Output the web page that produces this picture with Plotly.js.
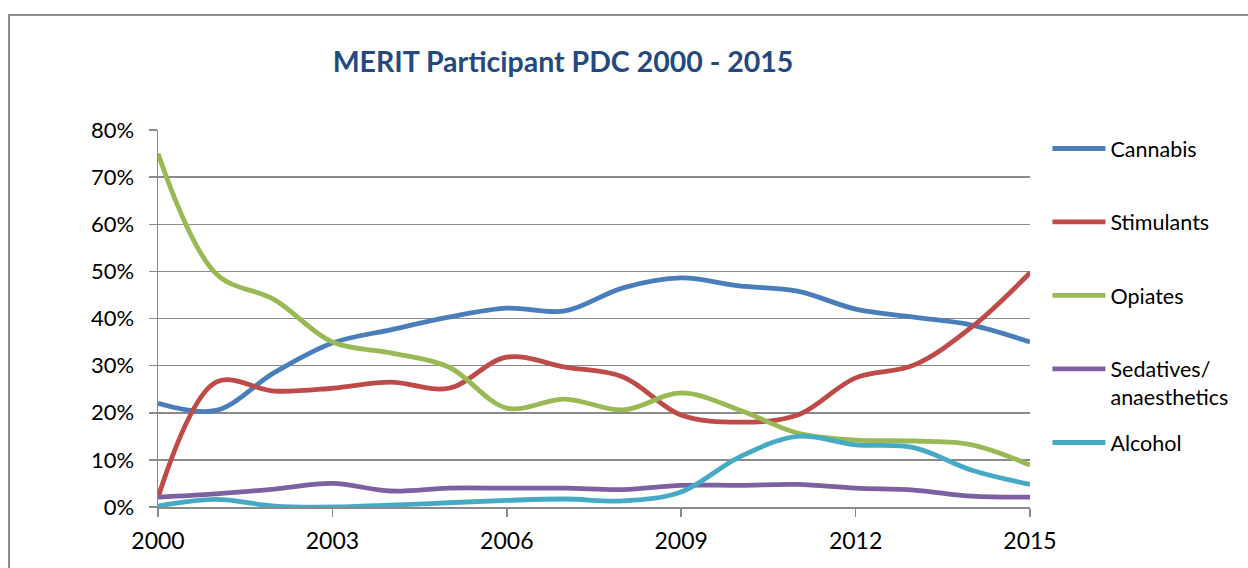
<!DOCTYPE html>
<html>
<head>
<meta charset="utf-8">
<script src="https://cdn.plot.ly/plotly-3.0.1.min.js"></script>
<style>
  html, body { margin: 0; padding: 0; background: #fff; overflow: hidden; }
  #chart { position: absolute; left: 0; top: 0; width: 1248px; height: 568px; }
  #frame { position: absolute; left: 8px; top: 14px; width: 1238px; height: 600px;
           border-top: 2px solid #8c8c8c; border-left: 2px solid #8c8c8c; border-right: 1px solid #d8d8d8;
           pointer-events: none; }
</style>
</head>
<body>
<div id="chart"></div>
<div id="frame"></div>
<script>
const years = [2000, 2001, 2002, 2003, 2004, 2005, 2006, 2007, 2008, 2009, 2010, 2011, 2012, 2013, 2014, 2015];
const cannabis   = [22, 20.5, 28.5, 34.8, 37.6, 40.3, 42.2, 41.6, 46.5, 48.6, 46.9, 45.8, 42, 40.3, 38.6, 35];
const stimulants = [2, 26.5, 24.6, 25.2, 26.5, 25.2, 31.8, 29.7, 27.6, 19.5, 18, 19.5, 27.4, 30.1, 38.2, 49.7];
const opiates    = [75, 49.5, 44, 35, 32.7, 29.7, 21, 22.9, 20.6, 24.2, 20.6, 15.7, 14.2, 14, 13.2, 8.9];
const sedatives  = [2.1, 2.8, 3.8, 5, 3.4, 4, 4, 4, 3.7, 4.6, 4.6, 4.8, 4, 3.6, 2.3, 2.1];
const alcohol    = [0.2, 1.6, 0.2, 0, 0.4, 0.9, 1.4, 1.7, 1.3, 3.2, 10.6, 15, 13.2, 12.6, 7.8, 4.8];
const seriesNames = ["Cannabis", "Stimulants", "Opiates", "Sedatives/<br>anaesthetics", "Alcohol"];
const xTicks = [2000, 2003, 2006, 2009, 2012, 2015];
const yTicks = [0, 10, 20, 30, 40, 50, 60, 70, 80];
const yTickText = ["0%", "10%", "20%", "30%", "40%", "50%", "60%", "70%", "80%"];
const chartTitle = "MERIT Participant PDC 2000 - 2015";

const colors = ["#4A7EBB", "#BE4B48", "#98B954", "#7D60A0", "#46AAC5"];
const allSeries = [cannabis, stimulants, opiates, sedatives, alcohol];

const traces = allSeries.map((vals, i) => ({
  type: "scatter",
  mode: "lines",
  x: years,
  y: vals,
  name: seriesNames[i],
  legendgroup: "g" + i,
  legend: i === 4 ? "legend2" : "legend",
  line: { color: colors[i], width: 4.8, shape: "spline", smoothing: 1 },
  hoverinfo: "x+y+name"
}));

const gridGray = "#8a8a8a";
const fontFam = "Lato, 'Liberation Sans', sans-serif";

const layout = {
  width: 1248,
  height: 568,
  margin: { l: 158, r: 218, t: 130, b: 61 },
  paper_bgcolor: "#ffffff",
  plot_bgcolor: "#ffffff",
  font: { family: fontFam, color: "#000000", size: 21 },
  title: {
    text: "<b>" + chartTitle + "</b>",
    font: { family: fontFam, size: 28.5, color: "#23497E" },
    x: 563 / 1248, xanchor: "center", xref: "container",
    y: 1 - 62 / 568, yanchor: "middle", yref: "container"
  },
  xaxis: {
    range: [2000, 2015],
    tickvals: xTicks,
    ticktext: xTicks.map(String),
    ticks: "outside", ticklen: 8, tickwidth: 1.5, tickcolor: gridGray,
    showline: true, linecolor: gridGray, linewidth: 1.5,
    showgrid: false, zeroline: false,
    tickfont: { family: fontFam, size: 23, color: "#000" },
    ticklabelstandoff: 5,
    fixedrange: true
  },
  yaxis: {
    range: [0, 80],
    tickvals: yTicks,
    ticktext: yTickText,
    ticks: "outside", ticklen: 8, tickwidth: 1.5, tickcolor: gridGray,
    showline: true, linecolor: gridGray, linewidth: 1.5,
    showgrid: true, gridcolor: gridGray, gridwidth: 1.5,
    zeroline: false,
    tickfont: { family: fontFam, size: 22, color: "#000" },
    ticklabelstandoff: 10,
    fixedrange: true
  },
  legend: {
    x: 1.02, xanchor: "left",
    y: 1.0 + 2 / 377, yanchor: "top",
    tracegroupgap: 42.5,
    itemwidth: 53,
    valign: "top",
    font: { family: fontFam, size: 21.5, color: "#000" },
    bgcolor: "rgba(0,0,0,0)",
    borderwidth: 0
  },
  legend2: {
    x: 1.02, xanchor: "left",
    y: (507 - 422) / 377, yanchor: "top",
    itemwidth: 53,
    font: { family: fontFam, size: 21.5, color: "#000" },
    bgcolor: "rgba(0,0,0,0)",
    borderwidth: 0
  },
  showlegend: true
};

Plotly.newPlot("chart", traces, layout, { displayModeBar: false, staticPlot: true });
</script>
</body>
</html>
